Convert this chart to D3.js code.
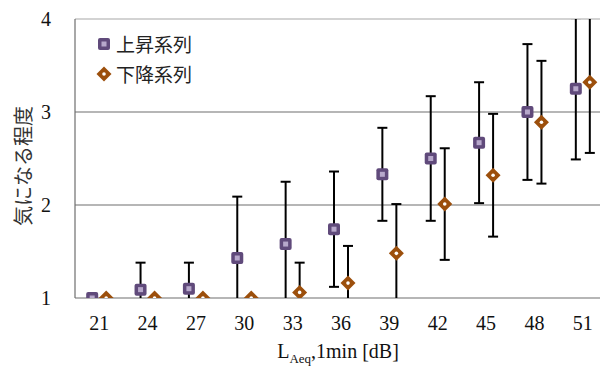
<!DOCTYPE html>
<html>
<head>
<meta charset="utf-8">
<script src="https://cdn.jsdelivr.net/npm/d3@7"></script>
<style>
  body { margin: 0; background: #fff; }
  svg { display: block; }
  .tick-label { font-family: "Liberation Serif", "DejaVu Serif", serif; font-size: 20px; fill: #111; }
  .jp { font-family: "Noto Sans CJK JP", sans-serif; }
</style>
</head>
<body>
<svg width="600" height="372"></svg>
<script>
// categories on the x axis (L_Aeq,1min in dB)
const levels = ['21', '24', '27', '30', '33', '36', '39', '42', '45', '48', '51'];
const yTicks = [1, 2, 3, 4];

// 上昇系列 (rising series): mean and std deviation
const riseMean = [1.00, 1.09, 1.10, 1.43, 1.58, 1.74, 2.33, 2.50, 2.67, 3.00, 3.25];
const riseSd   = [0.00, 0.29, 0.28, 0.66, 0.67, 0.62, 0.50, 0.67, 0.65, 0.73, 0.76];

// 下降系列 (falling series)
const fallMean = [1.00, 1.00, 1.00, 1.00, 1.06, 1.16, 1.48, 2.01, 2.32, 2.89, 3.32];
const fallSd   = [0.00, 0.00, 0.00, 0.00, 0.32, 0.40, 0.53, 0.60, 0.66, 0.66, 0.76];

const svg = d3.select('svg');
const margin = { top: 19, left: 75 };
const plotW = 532, plotH = 279;

const x = d3.scaleBand().domain(levels).range([margin.left, margin.left + plotW]);
const y = d3.scaleLinear().domain([1, 4]).range([margin.top + plotH, margin.top]);

svg.append('defs').append('clipPath').attr('id', 'plot')
  .append('rect')
  .attr('x', margin.left).attr('y', margin.top)
  .attr('width', plotW).attr('height', plotH);

// horizontal grid lines
svg.append('g')
  .selectAll('line')
  .data(yTicks.slice(1))
  .enter().append('line')
  .attr('x1', margin.left).attr('x2', margin.left + plotW)
  .attr('y1', d => y(d)).attr('y2', d => y(d))
  .attr('stroke', d => d === 4 ? '#a8a8a8' : '#6e6e6e')
  .attr('stroke-width', 1.2);

// axes lines
svg.append('line')
  .attr('x1', margin.left).attr('x2', margin.left)
  .attr('y1', y(4)).attr('y2', y(1))
  .attr('stroke', '#6e6e6e').attr('stroke-width', 1.2);
svg.append('line')
  .attr('x1', margin.left).attr('x2', margin.left + plotW)
  .attr('y1', y(1)).attr('y2', y(1))
  .attr('stroke', '#6e6e6e').attr('stroke-width', 1.2);

// y tick labels
svg.append('g')
  .selectAll('text')
  .data(yTicks)
  .enter().append('text')
  .attr('class', 'tick-label')
  .attr('x', 46).attr('y', d => y(d) + 7)
  .attr('text-anchor', 'middle')
  .text(d => d);

// x tick labels
svg.append('g')
  .selectAll('text')
  .data(levels)
  .enter().append('text')
  .attr('class', 'tick-label')
  .attr('x', d => x(d) + x.bandwidth() / 2)
  .attr('y', 330)
  .attr('text-anchor', 'middle')
  .text(d => d);

const series = [
  { mean: riseMean, sd: riseSd, dx: -7, kind: 'square' },
  { mean: fallMean, sd: fallSd, dx: 7, kind: 'diamond' }
];

const plot = svg.append('g').attr('clip-path', 'url(#plot)');

function drawMarker(g, kind, cx, cy) {
  if (kind === 'square') {
    g.append('rect')
      .attr('x', cx - 6).attr('y', cy - 6)
      .attr('width', 12).attr('height', 12)
      .attr('rx', 2)
      .attr('fill', '#604a7b');
    g.append('rect')
      .attr('x', cx - 2.5).attr('y', cy - 2.5)
      .attr('width', 5).attr('height', 5)
      .attr('fill', '#b7a8cb');
  } else {
    g.append('path')
      .attr('d', `M${cx},${cy - 7.5}L${cx + 7.5},${cy}L${cx},${cy + 7.5}L${cx - 7.5},${cy}Z`)
      .attr('fill', '#9c4f0c');
    g.append('circle')
      .attr('cx', cx).attr('cy', cy).attr('r', 1.8)
      .attr('fill', '#fff');
  }
}

series.forEach(s => {
  levels.forEach((lv, i) => {
    const cx = x(lv) + x.bandwidth() / 2 + s.dx;
    const m = s.mean[i], sd = s.sd[i];
    const g = plot.append('g');
    if (sd > 0) {
      const yTop = y(m + sd), yBot = y(m - sd);
      g.append('line')
        .attr('x1', cx).attr('x2', cx).attr('y1', yTop).attr('y2', yBot)
        .attr('stroke', '#000').attr('stroke-width', 2);
      [yTop, yBot].forEach(yy => {
        g.append('line')
          .attr('x1', cx - 5).attr('x2', cx + 5).attr('y1', yy).attr('y2', yy)
          .attr('stroke', '#000').attr('stroke-width', 2);
      });
    }
    drawMarker(g, s.kind, cx, y(m));
  });
});

// legend
const legend = svg.append('g');
drawMarker(legend, 'square', 104, 44);
drawMarker(legend, 'diamond', 104, 74);
legend.append('text').attr('class', 'jp')
  .attr('x', 116).attr('y', 52).attr('font-size', 19).attr('fill', '#222')
  .text('上昇系列');
legend.append('text').attr('class', 'jp')
  .attr('x', 116).attr('y', 82).attr('font-size', 19).attr('fill', '#222')
  .text('下降系列');

// y axis title
svg.append('text').attr('class', 'jp')
  .attr('transform', 'translate(31,166) rotate(-90)')
  .attr('text-anchor', 'middle')
  .attr('font-size', 20)
  .attr('fill', '#333')
  .text('気になる程度');

// x axis title with subscript
const xt = svg.append('text')
  .attr('class', 'tick-label')
  .attr('x', 338).attr('y', 358)
  .attr('text-anchor', 'middle');
xt.append('tspan').text('L');
xt.append('tspan').attr('font-size', 13).attr('dy', 5).text('Aeq');
xt.append('tspan').attr('dy', -5).text(',1min [dB]');
</script>
</body>
</html>
